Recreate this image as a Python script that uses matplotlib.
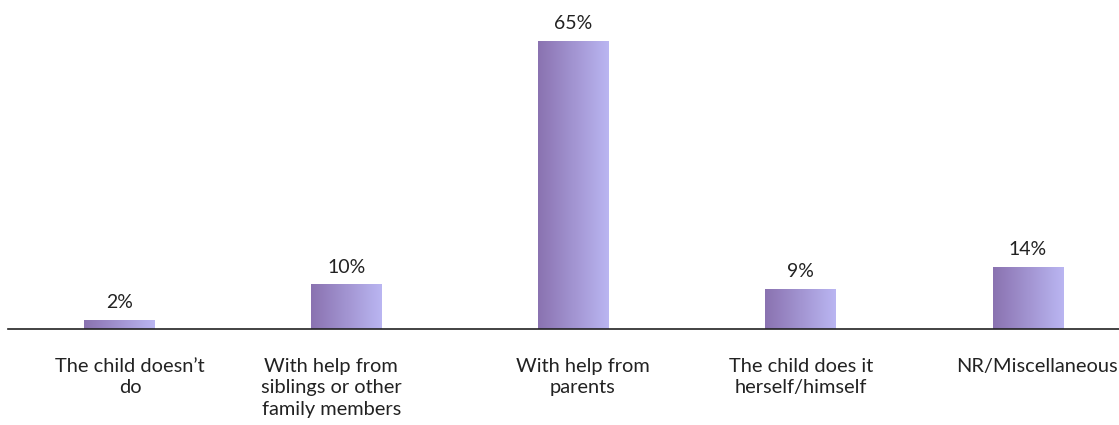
import matplotlib
matplotlib.use("Agg")
import matplotlib.pyplot as plt
import matplotlib.transforms as mtransforms
import numpy as np
from matplotlib.colors import LinearSegmentedColormap

categories = ["The child doesn\u2019t\ndo", "With help from\nsiblings or other\nfamily members",
              "With help from\nparents", "The child does it\nherself/himself", "NR/Miscellaneous"]
values = [2, 10, 65, 9, 14]
labels = ["2%", "10%", "65%", "9%", "14%"]
label_shift_px = [11, -15, 9, 0, 9]

plt.rcParams['font.family'] = ['Lato', 'DejaVu Sans']

fig = plt.figure(figsize=(11.19, 4.25), dpi=100)
ax = fig.add_axes([8/1119, (425-329)/425, 1 - 8/1119, 329/425])

x = np.arange(len(categories))
bars = ax.bar(x, values, width=0.31, color='none', edgecolor='none')
XL = (-0.489, 4.401)
YL = (0, 74.3)

cmap = LinearSegmentedColormap.from_list("g", ["#8a72b0", "#bab6f2"])
grad = np.linspace(0, 1, 256).reshape(1, -1)
for b, lab in zip(bars, labels):
    x0, w, h = b.get_x(), b.get_width(), b.get_height()
    ax.imshow(grad, extent=[x0, x0 + w, 0, h], aspect='auto', cmap=cmap, zorder=2)
    ax.text(x0 + w / 2, h + 2.0, lab, ha='center', va='bottom', fontsize=14, color='#222222')

ax.set_xticks(x)
ax.set_xticklabels(categories, fontsize=14.4, color='#222222', linespacing=1.3)
ax.tick_params(axis='x', length=0, pad=21)
ax.set_yticks([])
for s in ['top', 'right', 'left']:
    ax.spines[s].set_visible(False)
ax.spines['bottom'].set_linewidth(1.2)
ax.spines['bottom'].set_color('#222222')
ax.set_xlim(*XL)
ax.set_ylim(*YL)

for t, dx in zip(ax.get_xticklabels(), label_shift_px):
    t.set_transform(t.get_transform() + mtransforms.ScaledTranslation(dx / 100, 0, fig.dpi_scale_trans))

fig.savefig("out.png", dpi=100)
